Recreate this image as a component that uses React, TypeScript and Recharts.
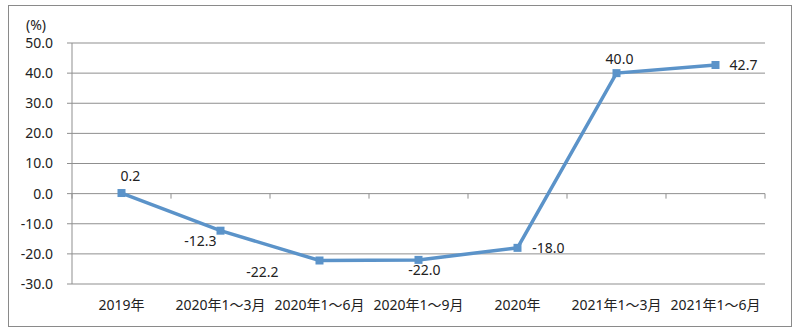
import React from "react";
import { LineChart, Line, XAxis, YAxis, CartesianGrid, LabelList } from "recharts";

// 时期与同比增速 (%)
const periods = [
  "2019年",
  "2020年1～3月",
  "2020年1～6月",
  "2020年1～9月",
  "2020年",
  "2021年1～3月",
  "2021年1～6月",
];
const growth = [0.2, -12.3, -22.2, -22.0, -18.0, 40.0, 42.7];
const yTicks = [-30, -20, -10, 0, 10, 20, 30, 40, 50];

// 数据标签相对数据点的偏移
const labelOffsets: [number, number][] = [
  [9, -18],
  [-20, 10],
  [-57, 11],
  [6, 10],
  [31, 0],
  [3, -15],
  [28, 0],
];

const W = 800;
const H = 334;
const X_AXIS_H = 30;
const M = { top: 43, right: 35, bottom: 50 - X_AXIS_H, left: 0 };
const AXIS_W = 72;
const PLOT_H = H - M.top - 50;
const BAND = (W - M.right - AXIS_W) / periods.length;
const ZERO_Y = M.top + (50 / 80) * PLOT_H;

const LINE = "#5b93c9";
const GRID = "#8f8f8f";
const FONT = "'Noto Sans', 'Noto Sans CJK SC', sans-serif";

const data = periods.map((p, i) => ({ name: p, value: growth[i] }));

function XTick(props: any) {
  const { x, payload, index } = props;
  return (
    <g>
      <line x1={x - BAND / 2} x2={x - BAND / 2} y1={ZERO_Y} y2={ZERO_Y + 5} stroke={GRID} />
      {index === periods.length - 1 && (
        <line x1={x + BAND / 2} x2={x + BAND / 2} y1={ZERO_Y} y2={ZERO_Y + 5} stroke={GRID} />
      )}
      <text x={x} y={H - 50 + 26} textAnchor="middle" fontSize={14} fill="#222" fontFamily={FONT}>
        {payload.value}
      </text>
    </g>
  );
}

function PointLabel(props: any) {
  const { x, y, value, index } = props;
  const [dx, dy] = labelOffsets[index];
  return (
    <text
      x={x + dx}
      y={y + dy}
      textAnchor="middle"
      dominantBaseline="central"
      fontSize={14}
      fill="#222"
      fontFamily={FONT}
    >
      {Number(value).toFixed(1)}
    </text>
  );
}

function SquareDot(props: any) {
  const { cx, cy } = props;
  return <rect x={cx - 4} y={cy - 4} width={8} height={8} fill={LINE} />;
}

export default function App() {
  return (
    <div style={{ position: "absolute", left: 0, top: 0, width: W, height: H, background: "#fff" }}>
      <div
        style={{
          position: "absolute",
          left: 8,
          top: 5,
          width: 782,
          height: 320,
          border: "1px solid #8a8a8a",
        }}
      />
      <div
        style={{
          position: "absolute",
          left: 26,
          top: 15,
          fontSize: 14,
          fontFamily: FONT,
          color: "#222",
        }}
      >
        (%)
      </div>
      <div style={{ position: "absolute", left: 0, top: 0 }}>
        <LineChart width={W} height={H} data={data} margin={M}>
          <CartesianGrid vertical={false} stroke={GRID} strokeWidth={1} />
          <XAxis
            dataKey="name"
            height={X_AXIS_H}
            axisLine={false}
            tickLine={false}
            tick={<XTick />}
            interval={0}
            padding={{ left: BAND / 2, right: BAND / 2 }}
          />
          <YAxis
            width={AXIS_W}
            domain={[-30, 50]}
            ticks={yTicks}
            interval={0}
            tickFormatter={(v: number) => v.toFixed(1)}
            axisLine={{ stroke: GRID }}
            tickLine={{ stroke: GRID }}
            tickSize={5}
            tickMargin={14}
            tick={{ fontSize: 14, fill: "#222", fontFamily: FONT }}
          />
          <Line
            dataKey="value"
            stroke={LINE}
            strokeWidth={3.5}
            dot={<SquareDot />}
            activeDot={false}
            isAnimationActive={false}
          >
            <LabelList dataKey="value" content={<PointLabel />} />
          </Line>
        </LineChart>
      </div>
    </div>
  );
}
